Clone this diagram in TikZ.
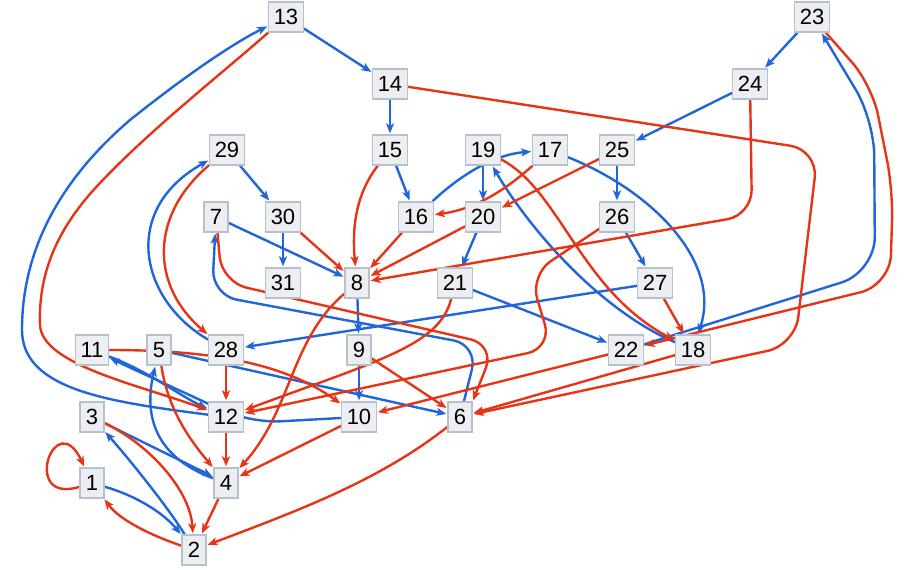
\documentclass[tikz,border=0pt]{standalone}
\usepackage{fontspec}
\setmainfont{Liberation Sans}
\usetikzlibrary{arrows.meta}
\definecolor{eblue}{RGB}{32,102,218}
\definecolor{ered}{RGB}{232,52,22}
\definecolor{nfill}{RGB}{236,238,242}
\definecolor{nline}{RGB}{182,193,206}
\pgfdeclarelayer{edgelayer}
\pgfsetlayers{edgelayer,main}
\tikzset{
  nd/.style={draw=nline, fill=nfill, line width=1.3pt, minimum height=30pt, minimum width=24pt,
    inner xsep=5pt, inner ysep=0pt, text height=15.5pt, text depth=0pt,
    font=\fontsize{22}{23}\selectfont},
  edgebase/.style={line width=2.4pt, -{Stealth[length=10pt,width=8pt,inset=2.5pt]}, shorten >=1pt},
  bl/.style={edgebase, draw=eblue},
  rd/.style={edgebase, draw=ered},
}
\begin{document}
\begin{tikzpicture}[x=1pt,y=-1pt]
\useasboundingbox (0,0) rectangle (914,570);
% nodes
\node[nd] (n1) at (92,483) {1};
\node[nd] (n2) at (194,550) {2};
\node[nd] (n3) at (92,417) {3};
\node[nd] (n4) at (226,483) {4};
\node[nd] (n5) at (159,350) {5};
\node[nd] (n6) at (460,417) {6};
\node[nd] (n7) at (216,217) {7};
\node[nd] (n8) at (357,283) {8};
\node[nd] (n9) at (359,350) {9};
\node[nd] (n10) at (359,417) {10};
\node[nd] (n11) at (92,350) {11};
\node[nd] (n12) at (226,417) {12};
\node[nd] (n13) at (286,17) {13};
\node[nd] (n14) at (390,84) {14};
\node[nd] (n15) at (390,150) {15};
\node[nd] (n16) at (416,217) {16};
\node[nd] (n17) at (550,150) {17};
\node[nd] (n18) at (693,350) {18};
\node[nd] (n19) at (483,150) {19};
\node[nd] (n20) at (483,217) {20};
\node[nd] (n21) at (455,283) {21};
\node[nd] (n22) at (626,350) {22};
\node[nd] (n23) at (812,17) {23};
\node[nd] (n24) at (750,84) {24};
\node[nd] (n25) at (617,150) {25};
\node[nd] (n26) at (617,217) {26};
\node[nd] (n27) at (655,283) {27};
\node[nd] (n28) at (226,350) {28};
\node[nd] (n29) at (227,150) {29};
\node[nd] (n30) at (283,217) {30};
\node[nd] (n31) at (283,283) {31};

\begin{pgfonlayer}{edgelayer}
% blue: n -> n+1
\draw[bl] (n1) .. controls (140,497) and (165,515) .. (n2);
\draw[bl] (n2) .. controls (170,510) and (130,460) .. (n3);
\draw[bl] (n3) -- (n4);
\draw[bl] (n4) .. controls (150,455) and (145,410) .. (n5);
\draw[bl] (n5) -- (n6);
\draw[bl, rounded corners=25pt] (n6) -- (478,345) -- (212,295) -- (n7);
\draw[bl] (n7) -- (n8);
\draw[bl] (n8) -- (n9);
\draw[bl] (n9) -- (n10);
\draw[bl, rounded corners=30pt] (n10) -- (250,423) -- (n11);
\draw[bl] (n11) .. controls (150,372) and (180,396) .. (n12);
\draw[bl] (n12) .. controls (110,402) and (22,390) .. (22,330)
  .. controls (22,250) and (60,180) .. (130,120)
  .. controls (180,80) and (230,45) .. (n13);
\draw[bl] (n13) -- (n14);
\draw[bl] (n14) -- (n15);
\draw[bl] (n15) -- (n16);
\draw[bl] (n16) .. controls (455,180) and (490,155) .. (n17);
\draw[bl] (n17) .. controls (650,190) and (722,260) .. (n18);
\draw[bl] (n18) .. controls (600,310) and (530,230) .. (n19);
\draw[bl] (n19) -- (n20);
\draw[bl] (n20) -- (n21);
\draw[bl] (n21) -- (n22);
\draw[bl, rounded corners=35pt] (n22) -- (875,272) -- (874,120) -- (n23);
\draw[bl] (n23) -- (n24);
\draw[bl] (n24) -- (n25);
\draw[bl] (n25) -- (n26);
\draw[bl] (n26) -- (n27);
\draw[bl] (n27) -- (n28);
\draw[bl] (n28) .. controls (140,300) and (120,210) .. (n29);
\draw[bl] (n29) -- (n30);
\draw[bl] (n30) -- (n31);
% red: n -> phi(n)
\draw[rd] (n1) .. controls (20,505) and (55,405) .. (n1);
\draw[rd] (n2) .. controls (150,535) and (120,520) .. (n1);
\draw[rd] (n3) .. controls (150,445) and (190,490) .. (n2);
\draw[rd] (n4) -- (n2);
\draw[rd] (n5) .. controls (168,410) and (190,440) .. (n4);
\draw[rd] (n6) .. controls (380,480) and (300,510) .. (n2);
\draw[rd, rounded corners=25pt] (n7) -- (222,282) -- (495,345) -- (n6.north east);
\draw[rd] (n8) .. controls (290,340) and (292,410) .. (n4);
\draw[rd] (n9) -- (n6);
\draw[rd] (n10) -- (n4);
\draw[rd] (n11) .. controls (200,350) and (280,360) .. (n10);
\draw[rd] (n12) -- (n4);
\draw[rd] (n13) .. controls (220,75) and (150,130) .. (100,183)
  .. controls (60,225) and (38,270) .. (40,325)
  .. controls (42,365) and (140,385) .. (n12);
\draw[rd, rounded corners=28pt] (n14) -- (818,150) -- (795,345) -- (n6);
\draw[rd] (n15) .. controls (355,195) and (352,230) .. (n8);
\draw[rd] (n16) -- (n8);
\draw[rd] (n17) .. controls (500,195) and (470,210) .. (n16);
\draw[rd] (n18) -- (n6);
\draw[rd] (n19) .. controls (560,190) and (580,290) .. (n18);
\draw[rd] (n20) -- (n8);
\draw[rd] (n21) .. controls (440,345) and (380,360) .. (n12);
\draw[rd] (n22) -- (n10);
\draw[rd, rounded corners=30pt] (n23) -- (872,85) -- (893,190) -- (890,285) -- (n22);
\draw[rd, rounded corners=25pt] (n24) -- (752,215) -- (n8);
\draw[rd] (n25) -- (n20);
\draw[rd, rounded corners=25pt] (n26) -- (530,275) -- (552,348) -- (n12);
\draw[rd] (n27) -- (n18);
\draw[rd] (n28) -- (n12);
\draw[rd] (n29) .. controls (150,215) and (150,285) .. (n28);
\draw[rd] (n30) -- (n8);
\end{pgfonlayer}
\end{tikzpicture}
\end{document}
